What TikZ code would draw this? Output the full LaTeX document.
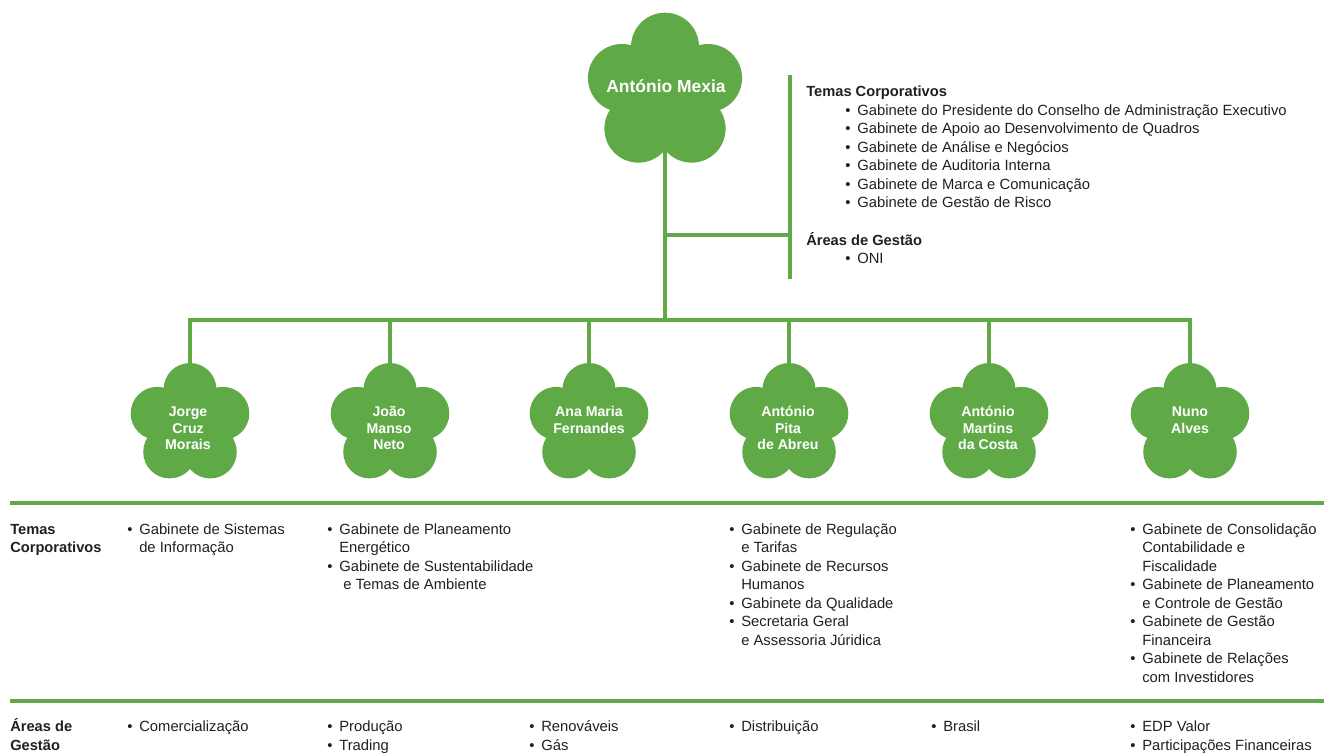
\documentclass[tikz,border=0pt]{standalone}
\usepackage{fontspec}
\setmainfont{Liberation Sans}
\definecolor{edpgreen}{RGB}{95,170,71}
\definecolor{txtgray}{RGB}{35,31,32}
\newcommand\edpflower[4]{%
  \fill[edpgreen] (#1,#2) circle[radius=#3];
  \foreach \a in {-90,-18,54,126,198}{\fill[edpgreen,shift={(#1,#2)}] (\a:#3) circle[radius=#4];}}
\newcommand\edpname[3]{%
  \foreach \l [count=\i] in {#3}{\node[fname] (#2-\i) at (#1, 416.7+16.3*\i-16.3) {\l};}}
\newcommand\edpcol[4]{%
  \foreach \k/\t [count=\i] in {#4}{%
    \node[txt] (#1-\i) at (#2, #3+18.5*\i-18.5) {\t};
    \if\k b\node[bul] (#1-b\i) at (#2-9, #3+18.5*\i-18.5) {•};\fi
  }}
\begin{document}
\begin{tikzpicture}[x=0.75pt,y=-0.75pt,
  stem/.style={draw=edpgreen,line width=3.4pt},
  sep/.style={draw=edpgreen,line width=2.3pt},
  txt/.style={inner sep=0pt,anchor=base west,text=txtgray,font=\fontsize{11.1}{13.5}\selectfont},
  hdr/.style={txt,font=\fontsize{11}{13.5}\selectfont\bfseries},
  bul/.style={txt,anchor=base},
  fname/.style={inner sep=0pt,anchor=base,text=white,font=\fontsize{10.6}{12.5}\selectfont\bfseries},
  bigname/.style={inner sep=0pt,anchor=base,text=white,font=\fontsize{13.1}{15}\selectfont\bfseries}
]
\useasboundingbox (0,0) rectangle (1326,753);

% separators
\coordinate (s1L) at (10,503);
\coordinate (s1R) at (1324,503);
\coordinate (s2L) at (10,701);
\coordinate (s2R) at (1324,701);
\draw[sep] (s1L) -- (s1R);
\draw[sep] (s2L) -- (s2R);

% connector coordinates
\coordinate (ceoC) at (665,92);
\coordinate (busC) at (665,320);
\coordinate (brJ) at (665,235);
\coordinate (barM) at (790,235);
\coordinate (barT) at (790,75);
\coordinate (barB) at (790,279);
\foreach \n/\x in {1/190,2/390,3/589,4/789,5/989,6/1190}{
  \coordinate (fc\n) at (\x,424);
  \coordinate (bus\n) at (\x,320);
}
\draw[stem] (ceoC) -- (busC);
\draw[stem] (brJ) -- (barM);
\draw[stem] (barT) -- (barB);
\draw[stem,line join=miter] (fc1) -- (bus1) -- (bus6) -- (fc6);
\foreach \n in {2,3,4,5}{\draw[stem] (bus\n) -- (fc\n);}

% flowers
\edpflower{665}{92}{45.3}{34}
\foreach \x in {190,390,589,789,989,1190}{\edpflower{\x}{424}{34.5}{26.5}}

\node[bigname] (ceo) at (666,92.7) {António Mexia};
\edpname{188}{jcm}{Jorge,Cruz,Morais}
\edpname{389}{jmn}{João,Manso,Neto}
\edpname{589}{amf}{Ana Maria,Fernandes}
\edpname{788}{apa}{António,Pita,de Abreu}
\edpname{988}{amc}{António,Martins,da Costa}
\edpname{1190}{nal}{Nuno,Alves}

% top-right block
\node[hdr] (tchead) at (806,96.5) {Temas Corporativos};
\edpcol{tc}{857}{115}{b/Gabinete do Presidente do Conselho de Administração Executivo,
  b/Gabinete de Apoio ao Desenvolvimento de Quadros,
  b/Gabinete de Análise e Negócios,
  b/Gabinete de Auditoria Interna,
  b/Gabinete de Marca e Comunicação,
  b/Gabinete de Gestão de Risco}
\node[hdr] (aghead) at (806,245) {Áreas de Gestão};
\edpcol{ag}{857}{263.7}{b/ONI}

% row labels
\node[hdr] (rl1) at (10,534) {Temas};
\node[hdr] (rl2) at (10,552.5) {Corporativos};
\node[hdr] (rl3) at (10,731.7) {Áreas de};
\node[hdr] (rl4) at (10,750.2) {Gestão};

% temas corporativos row
\edpcol{t1}{139}{534}{b/Gabinete de Sistemas, c/de Informação}
\edpcol{t2}{339}{534}{b/Gabinete de Planeamento, c/Energético, b/Gabinete de Sustentabilidade, c/\ e Temas de Ambiente}
\edpcol{t4}{741}{534}{b/Gabinete de Regulação, c/e Tarifas, b/Gabinete de Recursos, c/Humanos, b/Gabinete da Qualidade, b/Secretaria Geral, c/e Assessoria Júridica}
\edpcol{t6}{1142}{534}{b/Gabinete de Consolidação, c/Contabilidade e, c/Fiscalidade, b/Gabinete de Planeamento, c/e Controle de Gestão, b/Gabinete de Gestão, c/Financeira, b/Gabinete de Relações, c/com Investidores}

% areas de gestao row
\edpcol{a1}{139}{731.7}{b/Comercialização}
\edpcol{a2}{339}{731.7}{b/Produção, b/Trading}
\edpcol{a3}{541}{731.7}{b/Renováveis, b/Gás}
\edpcol{a4}{741}{731.7}{b/Distribuição}
\edpcol{a5}{943}{731.7}{b/Brasil}
\edpcol{a6}{1142}{731.7}{b/EDP Valor, b/Participações Financeiras}
\end{tikzpicture}
\end{document}
